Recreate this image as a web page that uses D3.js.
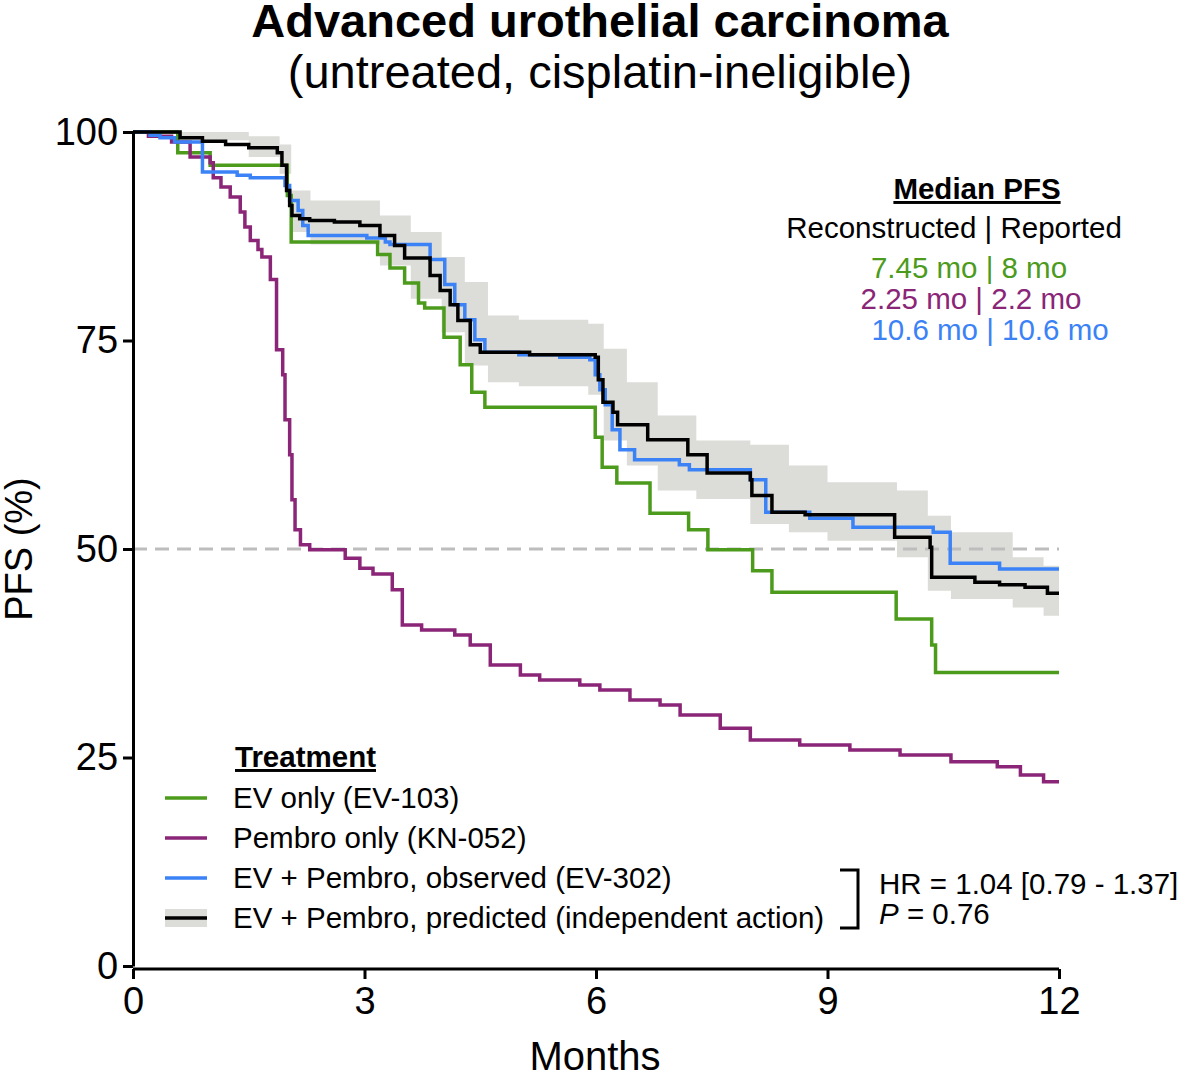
<!DOCTYPE html>
<html lang="en">
<head>
<meta charset="UTF-8">
<script src="https://d3js.org/d3.v7.min.js"></script>
<title>PFS</title>
<style>
    body { margin: 0; background: white; }
    text { font-family: Arial, "Liberation Sans", sans-serif; }
</style>
</head>
<body>
<div class="fig"></div>
<script>
    // step curves: [month, PFS %]
    const evOnly = [[0,100],[0.58,97.5],[1.0,96],[2.0,92.4],[2.05,86.8],[3.17,85.3],[3.33,83.7],[3.52,81.9],[3.7,79.5],[3.78,78.9],[4.03,75.4],[4.24,72.1],[4.39,68.8],[4.56,67],[5.99,63.4],[6.08,59.8],[6.27,57.9],[6.7,54.3],[7.2,52.3],[7.45,49.9],[8.03,47.4],[8.28,44.8],[9.89,41.6],[10.35,38.5],[10.4,35.2],[12,35.2]];
    const pembroOnly = [[0,100],[0.2,99.5],[0.5,98.8],[0.74,97],[1.0,96.3],[1.04,94.5],[1.14,93.4],[1.26,92.2],[1.39,90.4],[1.45,88.6],[1.52,87],[1.62,85.9],[1.67,85],[1.78,82.3],[1.86,73.9],[1.94,70.9],[1.97,65.5],[2.03,61.3],[2.06,55.9],[2.1,52.3],[2.17,50.5],[2.29,49.9],[2.75,48.9],[2.94,47.7],[3.11,47],[3.36,45.1],[3.49,40.9],[3.74,40.3],[4.17,39.7],[4.37,38.5],[4.63,36.1],[5.02,34.9],[5.27,34.3],[5.79,33.7],[6.05,33.1],[6.44,31.9],[6.83,31.3],[7.09,30.1],[7.61,28.5],[8.0,27.1],[8.64,26.5],[9.29,25.9],[9.94,25.3],[10.6,24.5],[11.2,23.9],[11.5,22.9],[11.8,22.1],[12,22.1]];
    const evPembroObs = [[0,100],[0.22,99.6],[0.35,99.3],[0.54,98.8],[0.9,95.2],[1.35,94.8],[1.52,94.5],[1.97,93.6],[2.03,91.8],[2.14,90.6],[2.2,88.8],[2.27,87.6],[3.03,87.3],[3.27,86.8],[3.33,86.5],[3.85,84.7],[4.04,81.7],[4.17,79.3],[4.3,77.5],[4.43,75.1],[4.56,73.6],[5.0,73.3],[5.53,73],[5.92,72.7],[5.99,70.9],[6.05,69.1],[6.12,67.3],[6.21,64.3],[6.31,61.9],[6.5,60.7],[7.08,60.1],[7.21,59.5],[8.0,58.3],[8.2,54.4],[8.77,53.7],[9.33,52.6],[10.37,52],[10.59,48.3],[11.23,47.6],[12,47.6]];
    const evPembroPred = [[0,100],[0.61,99.3],[0.9,98.9],[1.2,98.5],[1.5,98.1],[1.87,97.5],[1.93,96],[1.99,93],[2.03,91.2],[2.06,90],[2.16,89.6],[2.29,89.4],[2.61,89.2],[2.94,88.8],[3.2,87.6],[3.39,86.4],[3.52,84.9],[3.85,82.8],[3.98,81],[4.11,79.3],[4.21,77.4],[4.37,74.5],[4.5,73.6],[5.14,73.3],[5.99,73],[6.03,70.3],[6.09,67.6],[6.22,66.4],[6.28,64.9],[6.67,63.1],[7.19,61.3],[7.44,59.1],[8.0,58.3],[8.02,56.4],[8.28,54.4],[8.71,54.1],[9.87,51.4],[10.33,50.2],[10.35,46.6],[10.91,46],[11.23,45.7],[11.56,45.4],[11.85,44.7],[12,44.7]];
    // band around prediction: [month, low, high]
    const predBand = [[0,100,100],[0.6,99,100],[1.5,97,99.5],[1.9,95,98.5],[2.05,88,93],[2.3,86.5,91.8],[3.2,84,90],[3.6,80,88],[4.0,76,85],[4.3,72,82],[4.6,70,78],[5.0,69.5,77.5],[5.9,68.5,77],[6.1,63,74],[6.4,60,70],[6.8,57,66],[7.3,56,63],[8.0,53,62.5],[8.5,52,60],[9.0,51,58],[9.9,49,57],[10.3,45,54],[10.6,44,52],[11.4,43,49],[11.8,42,48],[12,42,48]];

    const xTicks = [0, 3, 6, 9, 12];
    const yTicks = [0, 25, 50, 75, 100];

    const legendLabels = ["EV only (EV-103)", "Pembro only (KN-052)", "EV + Pembro, observed (EV-302)", "EV + Pembro, predicted (independent action)"];
    const medianLines = ["7.45 mo | 8 mo", "2.25 mo | 2.2 mo", "10.6 mo | 10.6 mo"];
    const colors = { green: "#4c9b1c", purple: "#8a2577", blue: "#3b82f6", black: "#000", band: "#dcdcd8" };

    const width = 1200, height = 1078;
    const svg = d3.select(".fig").append("svg").attr("width", width).attr("height", height);

    const x = d3.scaleLinear().domain([0, 12]).range([133, 1059]);
    const y = d3.scaleLinear().domain([0, 100]).range([966, 132]);

    // title
    svg.append("text").attr("x", 600).attr("y", 37).attr("text-anchor", "middle")
        .attr("font-size", 47).attr("font-weight", "bold").text("Advanced urothelial carcinoma");
    svg.append("text").attr("x", 600).attr("y", 88).attr("text-anchor", "middle")
        .attr("font-size", 47).text("(untreated, cisplatin-ineligible)");

    // band
    svg.append("path").datum(predBand)
        .attr("fill", colors.band)
        .attr("d", d3.area().curve(d3.curveStepAfter).x(d => x(d[0])).y0(d => y(d[1])).y1(d => y(d[2])));

    // 50% reference
    svg.append("line").attr("x1", x(0)).attr("x2", x(12)).attr("y1", y(50)).attr("y2", y(50))
        .attr("stroke", "#bdbdbd").attr("stroke-width", 3).attr("stroke-dasharray", "14,8");

    const line = d3.line().curve(d3.curveStepAfter).x(d => x(d[0])).y(d => y(d[1]));
    [[evOnly, colors.green], [pembroOnly, colors.purple], [evPembroObs, colors.blue], [evPembroPred, colors.black]]
        .forEach(([data, c]) => {
            svg.append("path").datum(data).attr("fill", "none").attr("stroke", c)
                .attr("stroke-width", 3.5).attr("d", line);
        });

    // axes
    const xAxis = svg.append("g").attr("transform", `translate(0,${y(0) + 3})`)
        .call(d3.axisBottom(x).tickValues(xTicks).tickSize(10).tickSizeOuter(0));
    const yAxis = svg.append("g").attr("transform", `translate(${x(0)},0)`)
        .call(d3.axisLeft(y).tickValues(yTicks).tickSize(10).tickSizeOuter(0));
    [xAxis, yAxis].forEach(a => {
        a.select(".domain").attr("stroke-width", 3);
        a.selectAll(".tick line").attr("stroke-width", 3);
        a.selectAll(".tick text").attr("font-size", 38).attr("font-family", "Arial, 'Liberation Sans', sans-serif").attr("fill", "#000");
    });
    xAxis.select(".domain").attr("d", `M${x(0)},0H${x(12)}`);
    xAxis.selectAll(".tick text").attr("dy", "0.85em");
    yAxis.selectAll(".tick text").attr("dx", "-0.05em");

    svg.append("text").attr("x", 595).attr("y", 1070).attr("text-anchor", "middle").attr("font-size", 40).text("Months");
    svg.append("text").attr("transform", "translate(32,549) rotate(-90)").attr("text-anchor", "middle")
        .attr("font-size", 38).text("PFS (%)");

    // median block
    svg.append("text").attr("x", 977).attr("y", 199).attr("text-anchor", "middle").attr("font-size", 29.5)
        .attr("font-weight", "bold").attr("text-decoration", "underline").text("Median PFS");
    svg.append("text").attr("x", 954).attr("y", 238).attr("text-anchor", "middle").attr("font-size", 29.5)
        .text("Reconstructed | Reported");
    const medianX = [969, 971, 990];
    [colors.green, colors.purple, colors.blue].forEach((c, i) => {
        svg.append("text").attr("x", medianX[i]).attr("y", 278 + i * 31).attr("text-anchor", "middle")
            .attr("font-size", 29.5).attr("fill", c).text(medianLines[i]);
    });

    // legend
    svg.append("text").attr("x", 235).attr("y", 767).attr("font-size", 29.5).attr("font-weight", "bold")
        .attr("text-decoration", "underline").text("Treatment");
    const legColors = [colors.green, colors.purple, colors.blue, colors.black];
    legendLabels.forEach((lab, i) => {
        const ly = 798 + i * 40;
        if (i === 3) svg.append("rect").attr("x", 165).attr("y", ly - 9).attr("width", 42).attr("height", 18).attr("fill", colors.band);
        svg.append("line").attr("x1", 165).attr("x2", 207).attr("y1", ly).attr("y2", ly)
            .attr("stroke", legColors[i]).attr("stroke-width", 3.5);
        svg.append("text").attr("x", 233).attr("y", ly + 10).attr("font-size", 29.5).text(lab);
    });

    // bracket + HR
    svg.append("path").attr("d", "M840,870H858V928H840").attr("fill", "none").attr("stroke", "#000").attr("stroke-width", 3);
    svg.append("text").attr("x", 879).attr("y", 894).attr("font-size", 29.5).text("HR = 1.04 [0.79 - 1.37]");
    const pt = svg.append("text").attr("x", 879).attr("y", 924).attr("font-size", 29.5);
    pt.append("tspan").attr("font-style", "italic").text("P");
    pt.append("tspan").text(" = 0.76");
</script>
</body>
</html>
